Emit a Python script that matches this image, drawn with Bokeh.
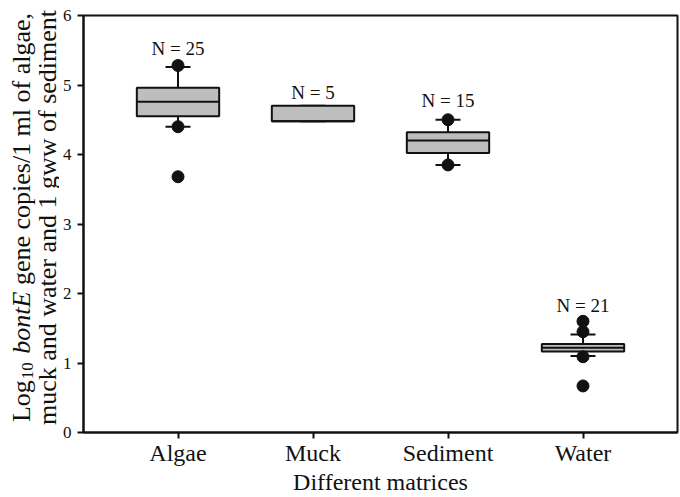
import math
from bokeh.plotting import figure
from bokeh.layouts import row
from bokeh.models import Range1d, FixedTicker, Label
from bokeh.embed import file_html
from bokeh.resources import INLINE
from bokeh.core.properties import value

# ---------------- data ----------------
categories = ["Algae", "Muck", "Sediment", "Water"]
sample_n = [25, 5, 15, 21]
q1 = [4.55, 4.48, 4.02, 1.165]
median = [4.76, 4.48, 4.20, 1.22]
q3 = [4.96, 4.70, 4.32, 1.275]
whisker_low = [4.40, 4.48, 3.85, 1.10]
whisker_high = [5.26, 4.70, 4.50, 1.41]
dot_group = ["Algae", "Algae", "Algae", "Sediment", "Sediment",
             "Water", "Water", "Water", "Water"]
dot_value = [5.28, 4.40, 3.68, 4.50, 3.85, 1.60, 1.45, 1.09, 0.67]
n_label_y = [5.52, 4.89, 4.77, 1.83]
y_ticks = [0, 1, 2, 3, 4, 5, 6]

# ---------------- layout ----------------
W, H = 680, 497
LW = 59                      # strip holding the rotated y-axis title
BL, BR, BT, BB = 81 - LW, 3, 15, 65
X0, X1 = 0.3, 4.7
Y0, Y1 = 0, 6
FONT = "Liberation Serif"
INK = "#111111"
BOX_FILL = "#bebebe"

p = figure(width=W - LW, height=H, output_backend="svg", toolbar_location=None,
           x_range=Range1d(X0, X1), y_range=Range1d(Y0, Y1),
           min_border_left=BL, min_border_right=BR,
           min_border_top=BT, min_border_bottom=BB)
p.frame_align = False
p.background_fill_color = "white"
p.border_fill_color = "white"
p.outline_line_color = INK
p.outline_line_width = 2
p.xgrid.visible = False
p.ygrid.visible = False

xpos = [i + 1 for i in range(len(categories))]
box_w = 0.61
cap_w = 0.185

# whiskers
p.segment(x0=xpos, y0=q3, x1=xpos, y1=whisker_high, line_color=INK, line_width=2)
p.segment(x0=xpos, y0=q1, x1=xpos, y1=whisker_low, line_color=INK, line_width=2)
p.segment(x0=[x - cap_w / 2 for x in xpos], y0=whisker_high,
          x1=[x + cap_w / 2 for x in xpos], y1=whisker_high, line_color=INK, line_width=2)
p.segment(x0=[x - cap_w / 2 for x in xpos], y0=whisker_low,
          x1=[x + cap_w / 2 for x in xpos], y1=whisker_low, line_color=INK, line_width=2)
# boxes
p.vbar(x=xpos, width=box_w, bottom=q1, top=q3, fill_color=BOX_FILL,
       line_color=INK, line_width=2)
# medians
p.segment(x0=[x - box_w / 2 for x in xpos], y0=median,
          x1=[x + box_w / 2 for x in xpos], y1=median, line_color=INK, line_width=2)
# points
dot_x = [categories.index(g) + 1 for g in dot_group]
p.scatter(x=dot_x, y=dot_value, size=12, fill_color=INK, line_color=INK)

# N labels
p.text(x=xpos, y=n_label_y, text=[f"N = {n}" for n in sample_n],
       text_font=value(FONT), text_font_size="19px", text_color=INK,
       text_align="center", text_baseline="alphabetic")

# axes
p.xaxis.ticker = FixedTicker(ticks=xpos)
p.xaxis.major_label_overrides = {x: c for x, c in zip(xpos, categories)}
p.yaxis.ticker = FixedTicker(ticks=y_ticks)
for ax in (p.xaxis, p.yaxis):
    ax.axis_line_color = INK
    ax.axis_line_width = 2
    ax.major_tick_line_color = INK
    ax.major_tick_line_width = 2
    ax.major_tick_in = 0
    ax.major_tick_out = 6
    ax.minor_tick_line_color = None
    ax.major_label_text_font = FONT
    ax.major_label_text_color = INK
p.xaxis.major_label_text_font_size = "24px"
p.xaxis.major_label_standoff = 1
p.yaxis.major_label_text_font_size = "17px"
p.yaxis.major_label_standoff = 6
p.xaxis.axis_label = "Different matrices"
p.xaxis.axis_label_text_font = FONT
p.xaxis.axis_label_text_font_size = "24px"
p.xaxis.axis_label_text_font_style = "normal"
p.xaxis.axis_label_text_color = INK
p.xaxis.axis_label_standoff = 0

# ---------------- left strip: rotated y-axis title with mixed styles ----------------
lf = figure(width=LW, height=H, output_backend="svg", toolbar_location=None,
            x_range=Range1d(0, LW), y_range=Range1d(0, H),
            x_axis_location=None, y_axis_location=None,
            min_border_left=0, min_border_right=0, min_border_top=0, min_border_bottom=0)
lf.frame_align = False
lf.grid.visible = False
lf.outline_line_color = None
lf.background_fill_color = "white"
lf.border_fill_color = "white"

TW = {' ': 250, 'a': 444, 'b': 500, 'c': 444, 'd': 500, 'e': 444, 'f': 333, 'g': 500,
      'i': 278, 'k': 500, 'l': 278, 'm': 778, 'n': 500, 'o': 500, 'p': 500, 'r': 333,
      's': 389, 't': 278, 'u': 500, 'w': 722, 'E': 611, 'L': 611, '/': 278, ',': 250,
      '0': 500, '1': 500}

def tw(s, size):
    return sum(TW.get(c, 500) for c in s) * size / 1000.0

TS = 26
SUB = 17
center_fy = 217

def vertical_run(segments, gaps, base_fx):
    total = sum(tw(s, sz) for s, _, sz, _ in segments) + sum(gaps)
    fy = center_fy + total / 2
    for (s, style, sz, shift), gap in zip(segments, gaps):
        lf.add_layout(Label(x=base_fx + shift, y=H - fy, text=s, angle=math.pi / 2,
                            text_font=FONT, text_font_size=f"{sz}px", text_font_style=style,
                            text_color=INK, text_align="left", text_baseline="alphabetic"))
        fy -= tw(s, sz) + gap

line1 = [("Log", "normal", TS, 0), ("10", "normal", SUB, 6),
         ("bontE", "italic", TS, 0), ("gene copies/1 ml of algae,", "normal", TS, 0)]
vertical_run(line1, [1, tw(" ", TS) + 2, tw(" ", TS), 0], 20.5)
line2 = [("muck and water and 1 gww of sediment", "normal", TS, 0)]
vertical_run(line2, [0], 47)

layout = row(lf, p)
open("out.html", "w").write(file_html(layout, INLINE))
